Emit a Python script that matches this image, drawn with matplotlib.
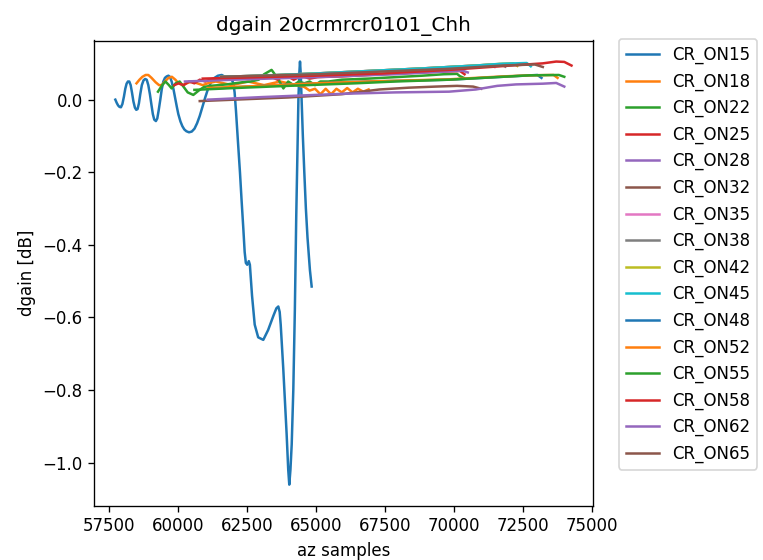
import matplotlib
matplotlib.use("Agg")
import matplotlib.pyplot as plt

title = "dgain 20crmrcr0101_Chh"
xlabel = "az samples"
ylabel = "dgain [dB]"
labels = ["CR_ON15", "CR_ON18", "CR_ON22", "CR_ON25", "CR_ON28", "CR_ON32", "CR_ON35", "CR_ON38",
          "CR_ON42", "CR_ON45", "CR_ON48", "CR_ON52", "CR_ON55", "CR_ON58", "CR_ON62", "CR_ON65"]
xticks = [57500, 60000, 62500, 65000, 67500, 70000, 72500, 75000]
yticks = [-1.0, -0.8, -0.6, -0.4, -0.2, 0.0]

x15 = [57719, 57770, 57820, 57870, 57923, 57975, 58030, 58080, 58127, 58175, 58225, 58275, 58322, 58375,
       58429, 58478, 58526, 58575, 58623, 58680, 58740, 58800, 58857, 58915, 58973, 59030, 59080, 59130,
       59190, 59240, 59290, 59350, 59401, 59460, 59518, 59580, 59644, 59700, 59761, 59830, 59887, 59950,
       60004, 60080, 60149, 60220, 60295, 60390, 60490, 60590, 60684, 60780, 60878, 60975, 61073, 61190,
       61316, 61440, 61578, 61670, 61753, 61850, 61948, 62000, 62045, 62094, 62170, 62239, 62300, 62361,
       62410, 62453, 62502, 62560, 62599, 62677, 62774, 62900, 63085, 63260, 63455, 63560, 63630, 63680,
       63717, 63809, 63931, 63990, 64028, 64070, 64116, 64174, 64230, 64281, 64330, 64359, 64390, 64417,
       64445, 64475, 64520, 64573, 64630, 64689, 64777, 64840]
y15 = [0.0, -0.009, -0.016, -0.02, -0.021, -0.012, 0.008, 0.03, 0.044, 0.05, 0.05, 0.04, 0.02, -0.005,
       -0.022, -0.028, -0.026, -0.01, 0.015, 0.04, 0.053, 0.057, 0.055, 0.04, 0.015, -0.015, -0.04, -0.055,
       -0.059, -0.052, -0.03, 0.0, 0.028, 0.05, 0.06, 0.064, 0.066, 0.063, 0.05, 0.028, 0.005, -0.02,
       -0.04, -0.06, -0.073, -0.082, -0.087, -0.09, -0.088, -0.08, -0.065, -0.045, -0.02, 0.005, 0.028, 0.048,
       0.06, 0.066, 0.068, 0.064, 0.06, 0.056, 0.054, 0.045, 0.02, -0.03, -0.12, -0.2, -0.28, -0.355,
       -0.42, -0.45, -0.455, -0.445, -0.455, -0.54, -0.62, -0.655, -0.662, -0.635, -0.595, -0.575, -0.57, -0.585,
       -0.62, -0.74, -0.92, -1.02, -1.061, -1.02, -0.95, -0.8, -0.58, -0.32, -0.12, 0.0, 0.07, 0.105,
       0.07, 0.0, -0.1, -0.2, -0.3, -0.38, -0.47, -0.515]

x18 = [58487, 58595, 58701, 58818, 58915, 59032, 59179, 59305, 59402, 59518, 59644, 59770, 59896, 60013,
       60159, 60305, 60500, 60693, 60888, 61073, 61364, 61656, 61948, 62239, 62531, 62822, 63114, 63405,
       63697, 63989, 64280, 64572, 64766, 64961, 65156, 65350, 65544, 65739, 65933, 66128, 66322, 66517,
       66711, 66905]
y18 = [0.045, 0.055, 0.063, 0.068, 0.068, 0.06, 0.048, 0.04, 0.04, 0.05, 0.06, 0.063, 0.055, 0.045,
       0.04, 0.045, 0.05, 0.045, 0.04, 0.045, 0.05, 0.045, 0.04, 0.045, 0.05, 0.045, 0.04, 0.045,
       0.05, 0.045, 0.04, 0.035, 0.025, 0.03, 0.015, 0.03, 0.015, 0.03, 0.02, 0.032, 0.02, 0.03,
       0.022, 0.028]

x22 = [59266, 59420, 59537, 59663, 59761, 59907, 60052, 60198, 60344, 60548, 60742, 60937, 61170, 61462,
       61753, 62045, 62337, 62628, 62920, 63114, 63386, 63600, 63814, 63989, 64184, 64378, 64572, 64766,
       64961, 65156, 65448, 65933, 66905, 67878, 68850, 69628, 70114, 70211, 70357]
y22 = [0.022, 0.04, 0.05, 0.04, 0.031, 0.045, 0.05, 0.035, 0.02, 0.013, 0.025, 0.035, 0.038, 0.04,
       0.042, 0.045, 0.048, 0.05, 0.055, 0.07, 0.082, 0.06, 0.031, 0.05, 0.04, 0.05, 0.045, 0.05,
       0.04, 0.05, 0.05, 0.055, 0.058, 0.062, 0.066, 0.07, 0.071, 0.065, 0.06]

x25 = [59859, 60013, 60198, 60393, 60587, 60781, 60976, 61267, 61559, 61851, 62142, 62434, 62725, 63017,
       63308, 63600, 63892, 64184, 64475, 64766, 65058, 65448, 65933, 66905, 67878, 68850, 69822, 70220,
       70385]
y25 = [0.04, 0.045, 0.04, 0.05, 0.045, 0.055, 0.05, 0.058, 0.055, 0.06, 0.058, 0.06, 0.062, 0.06,
       0.065, 0.055, 0.068, 0.055, 0.065, 0.058, 0.062, 0.063, 0.064, 0.068, 0.072, 0.075, 0.078, 0.079,
       0.07]

x28 = [60244, 62045, 64961, 67878, 70308, 70502]
y28 = [0.05, 0.055, 0.062, 0.07, 0.08, 0.075]

x32 = [60781, 62045, 63989, 65933, 67294, 68364, 69336, 70114, 70697, 70988]
y32 = [-0.004, 0.0, 0.006, 0.015, 0.028, 0.033, 0.036, 0.038, 0.036, 0.03]

x35 = [61559, 63017, 64961, 66905, 68850, 70794, 71280, 71474]
y35 = [0.063, 0.066, 0.072, 0.079, 0.086, 0.094, 0.096, 0.09]

x38 = [61559, 63017, 64961, 66905, 68850, 70794, 71669, 71863]
y38 = [0.063, 0.066, 0.072, 0.079, 0.086, 0.094, 0.098, 0.091]

x42 = [61559, 63017, 64961, 66905, 68850, 70794, 71766, 72155, 72300]
y42 = [0.063, 0.066, 0.072, 0.079, 0.086, 0.094, 0.099, 0.1, 0.093]

x45 = [61559, 63017, 64961, 66905, 68850, 70794, 71766, 72641, 72787]
y45 = [0.063, 0.066, 0.072, 0.079, 0.086, 0.094, 0.099, 0.101, 0.092]

x48 = [61073, 63017, 64961, 66905, 69822, 71766, 73029, 73175]
y48 = [0.03, 0.038, 0.045, 0.05, 0.055, 0.063, 0.068, 0.06]

x52 = [61073, 63017, 64961, 66905, 69822, 71766, 72738, 73613, 73759]
y52 = [0.032, 0.038, 0.045, 0.05, 0.056, 0.064, 0.067, 0.068, 0.06]

x55 = [60587, 62045, 63989, 66419, 67878, 69822, 71766, 72738, 73807, 74002]
y55 = [0.027, 0.032, 0.038, 0.045, 0.05, 0.055, 0.063, 0.067, 0.068, 0.063]

x58 = [60888, 63017, 64961, 67392, 69822, 72252, 73224, 73710, 74002, 74264]
y58 = [0.058, 0.062, 0.066, 0.072, 0.082, 0.095, 0.1, 0.105, 0.104, 0.094]

x62 = [61073, 63017, 65933, 67878, 69822, 70794, 71572, 72252, 73224, 73710, 74002]
y62 = [0.0, 0.007, 0.016, 0.02, 0.022, 0.028, 0.038, 0.042, 0.044, 0.046, 0.036]

x65 = [61559, 64961, 69822, 71766, 72932, 73224]
y65 = [0.063, 0.07, 0.085, 0.094, 0.097, 0.09]

series_x = [x15, x18, x22, x25, x28, x32, x35, x38, x42, x45, x48, x52, x55, x58, x62, x65]
series_y = [y15, y18, y22, y25, y28, y32, y35, y38, y42, y45, y48, y52, y55, y58, y62, y65]

fig = plt.figure(figsize=(763 / 120, 560 / 120), dpi=120)
ax = fig.add_axes([94.3 / 763, 1 - 505.7 / 560, (592.5 - 94.3) / 763, (505.7 - 40.5) / 560])
for xs, ys, lab in zip(series_x, series_y, labels):
    ax.plot(xs, ys, label=lab)

ax.set_xlim(56956, 75026)
ax.set_ylim(-1.119, 0.163)
ax.set_xticks(xticks)
ax.set_yticks(yticks)
ax.set_title(title)
ax.set_xlabel(xlabel)
ax.set_ylabel(ylabel)
ax.legend(bbox_to_anchor=(1.053, 1.003), loc="upper left", borderaxespad=0.0)
fig.savefig("out.png", dpi=120)
